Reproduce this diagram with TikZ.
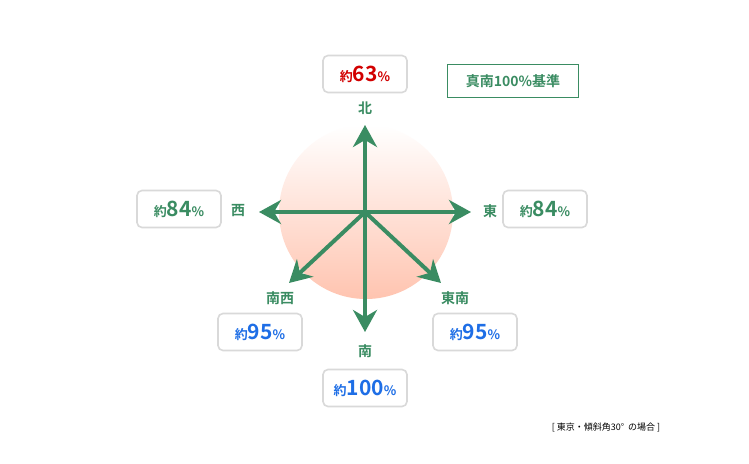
\documentclass[tikz,border=0pt]{standalone}
\usepackage{fontspec}
\newfontfamily\cjk{Noto Sans CJK JP}
\newfontfamily\cjkb{Noto Sans CJK JP Bold}
\usetikzlibrary{arrows.meta}
\definecolor{gr}{RGB}{58,140,98}
\definecolor{rd}{RGB}{210,0,0}
\definecolor{bl}{RGB}{30,110,230}
\definecolor{pk}{RGB}{255,196,176}
\newcommand{\pct}[1]{約{\fontsize{21}{21}\selectfont #1}\%}
\begin{document}
\begin{tikzpicture}[x=1pt,y=-1pt,
 val/.style={draw=black!15,line width=1.6pt,rounded corners=5pt,minimum width=84pt,minimum height=37pt,fill=white,font=\cjkb\fontsize{13}{13}\selectfont},
 dir/.style={text=gr,font=\cjkb\fontsize{14}{14}\selectfont},
 arr/.style={draw=gr,line width=4pt,-{Stealth[length=22pt,width=24pt,inset=7pt]}}]
\useasboundingbox[fill=white] (0,0) rectangle (749,463);
\shade[top color=white,bottom color=pk] (366,212) circle (87);
\coordinate (c) at (365,212);
\coordinate (n) at (365,125);
\coordinate (w) at (259,212);
\coordinate (e) at (471,212);
\coordinate (s) at (365,332);
\coordinate (sw) at (289,283);
\coordinate (se) at (441,283);
\foreach \t in {n,w,e,s,sw,se} \draw[arr] (c) -- (\t);
\node[val,text=rd] (vn) at (365,74) {\pct{63}};
\node[val,text=gr] (vw) at (179,209) {\pct{84}};
\node[val,text=gr] (ve) at (545,209) {\pct{84}};
\node[val,text=bl] (vsw) at (260,332) {\pct{95}};
\node[val,text=bl] (vse) at (475,332) {\pct{95}};
\node[val,text=bl] (vs) at (365,388) {\pct{100}};
\node[draw=gr,line width=1.6pt,minimum width=131pt,minimum height=33pt,text=gr,font=\cjkb\fontsize{14}{14}\selectfont] (std) at (513,81) {真南100\%基準};
\node[dir] (ln) at (365,108) {北};
\node[dir] (lw) at (238,211) {西};
\node[dir] (le) at (490,211) {東};
\node[dir] (lsw) at (280,298) {南西};
\node[dir] (lse) at (455,298) {東南};
\node[dir] (ls) at (365,351) {南};
\node[font=\cjk\fontsize{9}{9}\selectfont] (note) at (606,427) {[ 東京・傾斜角30°\ \ の場合 ]};
\end{tikzpicture}
\end{document}
